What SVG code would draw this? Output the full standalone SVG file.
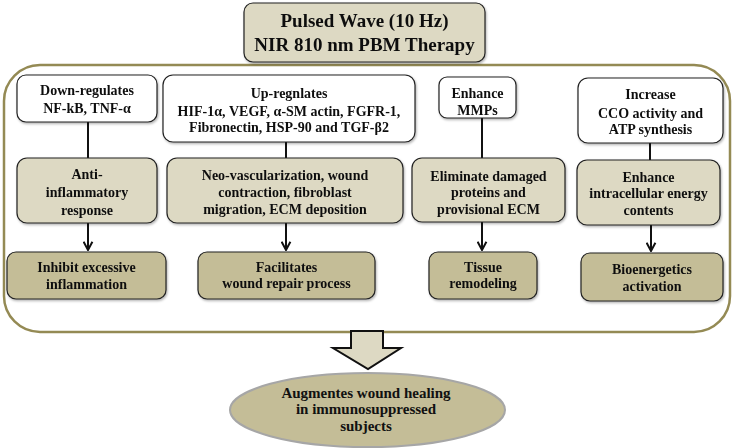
<svg xmlns="http://www.w3.org/2000/svg" width="733" height="448" viewBox="0 0 733 448">
<style>
text{font-family:"Liberation Serif","Times New Roman",serif;font-weight:bold;fill:#111;text-anchor:middle}
.t13{font-size:14px}
.t17{font-size:19px}
.t14{font-size:15px}
.w{fill:#fff;stroke:#222;stroke-width:1.2}
.l{fill:#DDD9C3;stroke:#222;stroke-width:1.2}
.d{fill:#C4BD97;stroke:#222;stroke-width:1.2}
.c{stroke:#111;stroke-width:2;fill:none}
</style>
<defs>
<filter id="sh" x="-10%" y="-10%" width="130%" height="140%">
<feDropShadow dx="1" dy="1.5" stdDeviation="1" flood-color="#000" flood-opacity="0.3"/>
</filter>
<marker id="ah" viewBox="0 0 10 10" refX="9" refY="5" markerWidth="11" markerHeight="11" orient="auto" markerUnits="userSpaceOnUse">
<path d="M1.5,1 L9,5 L1.5,9" fill="none" stroke="#111" stroke-width="1.8"/>
</marker>
</defs>
<rect id="container" x="4" y="65" width="726" height="267" rx="36" fill="#fff" stroke="#948A54" stroke-width="2.5"/>
<g id="title" filter="url(#sh)">
<rect class="l" x="244" y="3" width="241" height="59" rx="9"/>
<text class="t17" x="364.5" y="26.5">Pulsed Wave (10 Hz)</text>
<text class="t17" x="364.5" y="50.5">NIR 810 nm PBM Therapy</text>
</g>
<g id="connectors">
<line class="c" x1="88" y1="122" x2="88" y2="158"/>
<line class="c" x1="286" y1="142" x2="286" y2="158"/>
<line class="c" x1="482" y1="118" x2="482" y2="158"/>
<line class="c" x1="650" y1="143" x2="650" y2="160"/>
<line class="c" x1="88" y1="223" x2="88" y2="250" marker-end="url(#ah)"/>
<line class="c" x1="286" y1="223" x2="286" y2="250" marker-end="url(#ah)"/>
<line class="c" x1="482" y1="222" x2="482" y2="250" marker-end="url(#ah)"/>
<line class="c" x1="651" y1="225" x2="651" y2="251" marker-end="url(#ah)"/>
<path id="blockarrow" d="M351,331 L383,331 L383,348 L401,348 L368,369 L333,348 L351,348 Z" fill="#DDD9C3" stroke="#111" stroke-width="2" stroke-linejoin="miter"/>
</g>
<g id="n1a" filter="url(#sh)"><rect class="w" x="17" y="75" width="140" height="47" rx="9"/>
<text class="t13" x="87" y="95">Down-regulates</text><text class="t13" x="87" y="113">NF-kB, TNF-α</text></g>
<g id="n2a" filter="url(#sh)"><rect class="w" x="163" y="75" width="252" height="67" rx="10"/>
<text class="t13" x="289" y="98">Up-regnlates</text><text class="t13" x="289" y="116">HIF-1α, VEGF, α-SM actin, FGFR-1,</text><text class="t13" x="289" y="132">Fibronectin, HSP-90 and TGF-β2</text></g>
<g id="n3a" filter="url(#sh)"><rect class="w" x="439" y="77" width="77" height="41" rx="8"/>
<text class="t13" x="477.5" y="98">Enhance</text><text class="t13" x="477.5" y="115">MMPs</text></g>
<g id="n4a" filter="url(#sh)"><rect class="w" x="578" y="78" width="145" height="65" rx="10"/>
<text class="t13" x="650.5" y="99">Increase</text><text class="t13" x="650.5" y="118">CCO activity and</text><text class="t13" x="650.5" y="134">ATP  synthesis</text></g>
<g id="n1b" filter="url(#sh)"><rect class="l" x="17" y="158" width="140" height="65" rx="10"/>
<text class="t13" x="87" y="179">Anti-</text><text class="t13" x="87" y="197">inflammatory</text><text class="t13" x="87" y="215">response</text></g>
<g id="n2b" filter="url(#sh)"><rect class="l" x="167" y="158" width="236" height="65" rx="10"/>
<text class="t13" x="285" y="180">Neo-vascularization, wound</text><text class="t13" x="285" y="197">contraction, fibroblast</text><text class="t13" x="285" y="214">migration, ECM deposition</text></g>
<g id="n3b" filter="url(#sh)"><rect class="l" x="412" y="158" width="153" height="64" rx="10"/>
<text class="t13" x="488.5" y="181">Eliminate damaged</text><text class="t13" x="488.5" y="197">proteins and</text><text class="t13" x="488.5" y="214">provisional  ECM</text></g>
<g id="n4b" filter="url(#sh)"><rect class="l" x="577" y="160" width="143" height="65" rx="10"/>
<text class="t13" x="648.5" y="182">Enhance</text><text class="t13" x="648.5" y="198">intracellular energy</text><text class="t13" x="648.5" y="215">contents</text></g>
<g id="n1c" filter="url(#sh)"><rect class="d" x="7" y="252" width="159" height="47" rx="9"/>
<text class="t13" x="86.5" y="272">Inhibit excessive</text><text class="t13" x="86.5" y="289">inflammation</text></g>
<g id="n2c" filter="url(#sh)"><rect class="d" x="198" y="252" width="177" height="47" rx="9"/>
<text class="t13" x="286.5" y="272">Facilitates</text><text class="t13" x="286.5" y="288">wound repair process</text></g>
<g id="n3c" filter="url(#sh)"><rect class="d" x="429" y="252" width="108" height="47" rx="9"/>
<text class="t13" x="483" y="272">Tissue</text><text class="t13" x="483" y="288">remodeling</text></g>
<g id="n4c" filter="url(#sh)"><rect class="d" x="581" y="253" width="142" height="48" rx="9"/>
<text class="t13" x="652" y="274">Bioenergetics</text><text class="t13" x="652" y="291">activation</text></g>
<g id="result">
<ellipse cx="367.5" cy="410" rx="137.5" ry="37" fill="#C4BD97" stroke="#A6A6A6" stroke-width="2"/>
<text class="t14" x="366" y="397.5">Augmentes wound healing</text><text class="t14" x="366" y="413.5">in immunosuppressed</text><text class="t14" x="366" y="430.5">subjects</text>
</g>
</svg>
